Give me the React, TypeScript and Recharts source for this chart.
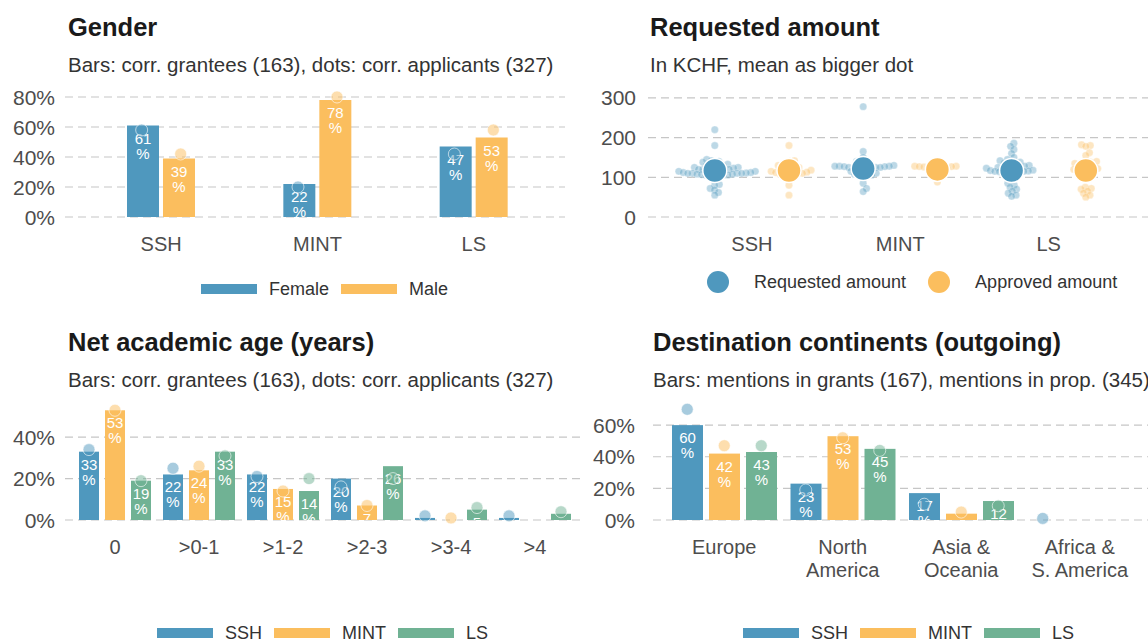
import React from 'react';
import { ComposedChart, ScatterChart, Bar, Scatter, XAxis, YAxis, CartesianGrid } from 'recharts';

const BLUE = '#4f98be';
const ORANGE = '#fbbe5e';
const GREEN = '#70b294';
const TICK = '#4d4d4d';
const TEXT = '#333333';
const GRID = '#c6c6c6';
const FONT = '"Liberation Sans", Arial, Helvetica, sans-serif';

// Gender (% of grantees as bars, % of applicants as dots)
const genderCats = ['SSH', 'MINT', 'LS'];
const genderFemale = [61, 22, 47];
const genderMale = [39, 78, 53];
const genderFemaleApplicants = [58, 20, 42];
const genderMaleApplicants = [42, 80, 58];

// Requested / approved amounts in KCHF, one dot per project
const amountCats = ['SSH', 'MINT', 'LS'];
const requestedSSH = [220, 180, 145, 142, 140, 138, 135, 133, 130, 130, 128, 127, 125, 125, 123, 122, 120, 120, 120, 118, 117, 115, 115, 114, 113, 112, 112, 111, 110, 110, 110, 110, 109, 108, 108, 107, 106, 105, 105, 102, 100, 98, 82, 80, 72, 68, 62, 55];
const approvedSSH = [180, 142, 140, 135, 130, 128, 125, 122, 120, 120, 118, 116, 115, 113, 112, 110, 110, 108, 108, 106, 105, 80, 55];
const requestedMINT = [278, 165, 150, 140, 135, 132, 130, 128, 128, 128, 127, 127, 126, 125, 125, 125, 124, 122, 120, 118, 115, 112, 110, 108, 106, 105, 105, 100, 85, 72, 64];
const approvedMINT = [140, 130, 128, 128, 127, 127, 126, 125, 125, 123, 120, 118, 112, 105, 88];
const requestedLS = [186, 178, 170, 160, 150, 145, 142, 140, 138, 136, 135, 132, 130, 128, 127, 125, 125, 123, 122, 120, 120, 118, 117, 116, 115, 115, 114, 113, 112, 110, 108, 105, 100, 85, 80, 75, 70, 65, 60, 55, 52];
const approvedLS = [182, 180, 178, 162, 155, 140, 138, 137, 135, 133, 130, 128, 126, 125, 122, 120, 118, 117, 115, 113, 110, 105, 75, 72, 70, 65, 60, 55, 50];
const requestedMeans = [117, 122, 117];
const approvedMeans = [117, 120, 117];

// Net academic age (years)
const ageCats = ['0', '>0-1', '>1-2', '>2-3', '>3-4', '>4'];
const ageSSH = [33, 22, 22, 20, 1, 1];
const ageMINT = [53, 24, 15, 7, 0, 0];
const ageLS = [19, 33, 14, 26, 5, 3];
const ageSSHApplicants = [34, 25, 21, 16, 2, 2];
const ageMINTApplicants = [53, 26, 14, 7, 1, null];
const ageLSApplicants = [19, 31, 20, 20, 6, 4];

// Destination continents
const destCats = ['Europe', 'North\nAmerica', 'Asia &\nOceania', 'Africa &\nS. America'];
const destSSH = [60, 23, 17, 0];
const destMINT = [42, 53, 4, 0];
const destLS = [43, 45, 12, 0];
const destSSHProposals = [70, 19, 10, 1];
const destMINTProposals = [47, 52, 5, null];
const destLSProposals = [47, 44, 9, null];

const genderData = genderCats.map((cat, i) => ({
  cat,
  female: genderFemale[i],
  male: genderMale[i],
  femaleApp: genderFemaleApplicants[i],
  maleApp: genderMaleApplicants[i],
}));

const ageData = ageCats.map((cat, i) => ({
  cat,
  ssh: ageSSH[i],
  mint: ageMINT[i],
  ls: ageLS[i],
  sshApp: ageSSHApplicants[i],
  mintApp: ageMINTApplicants[i],
  lsApp: ageLSApplicants[i],
}));

const destData = destCats.map((cat, i) => ({
  cat,
  ssh: destSSH[i],
  mint: destMINT[i],
  ls: destLS[i],
  sshApp: destSSHProposals[i],
  mintApp: destMINTProposals[i],
  lsApp: destLSProposals[i],
}));

// amount panel geometry, needed to lay the swarm out in pixels
const AMT_X_DOMAIN: [number, number] = [-0.7, 2.75];
const AMT_Y_MAX = 320;
const AMT_PLOT_W = 512;
const AMT_PLOT_H = 127;

// simple beeswarm: push each point sideways until it clears the ones already placed
function swarm(values: number[], minDist: number): number[] {
  const pxX = AMT_PLOT_W / (AMT_X_DOMAIN[1] - AMT_X_DOMAIN[0]);
  const pxY = AMT_PLOT_H / AMT_Y_MAX;
  const order = values.map((_, i) => i).sort((a, b) => values[a] - values[b]);
  const placed: { x: number; y: number }[] = [];
  const offsets = new Array(values.length).fill(0);
  for (const i of order) {
    const y = values[i] * pxY;
    const candidates = [0];
    for (const p of placed) {
      const dy = Math.abs(p.y - y);
      if (dy < minDist) {
        const dx = Math.sqrt(minDist * minDist - dy * dy);
        candidates.push(p.x + dx, p.x - dx);
      }
    }
    candidates.sort((a, b) => Math.abs(a) - Math.abs(b));
    let best = 0;
    for (const c of candidates) {
      if (placed.every((p) => (p.x - c) ** 2 + (p.y - y) ** 2 >= minDist * minDist - 1e-6)) {
        best = c;
        break;
      }
    }
    placed.push({ x: best, y });
    offsets[i] = best / pxX;
  }
  return offsets;
}

function swarmPoints(groups: number[][], side: number) {
  const out: { x: number; y: number }[] = [];
  groups.forEach((vals, gi) => {
    const offs = swarm(vals, 4.6);
    vals.forEach((v, k) => out.push({ x: gi + side * 0.25 + offs[k], y: v }));
  });
  return out;
}

const requestedPoints = swarmPoints([requestedSSH, requestedMINT, requestedLS], -1);
const approvedPoints = swarmPoints([approvedSSH, approvedMINT, approvedLS], 1);
const requestedMeanPoints = requestedMeans.map((y, i) => ({ x: i - 0.25, y }));
const approvedMeanPoints = approvedMeans.map((y, i) => ({ x: i + 0.25, y }));

function labelledBar(color: string, key: string, id: string) {
  return (props: any) => {
    const { x, y, width, height, index, payload } = props;
    const v = payload?.[key];
    if (v == null || x == null || !width) return <g />;
    const cx = x + width / 2;
    const h = Math.max(height || 0, 0);
    const clip = `${id}-${index}`;
    return (
      <g>
        <rect x={x} y={y} width={width} height={h} fill={color} />
        <clipPath id={clip}>
          <rect x={x - 5} y={y - 30} width={width + 10} height={h + 30} />
        </clipPath>
        <g clipPath={`url(#${clip})`} fill="#fff" fontSize={15} textAnchor="middle">
          {h > 6 && <text x={cx} y={y + 18}>{v}</text>}
          {h > 22 && <text x={cx} y={y + 33}>%</text>}
        </g>
      </g>
    );
  };
}

function offsetDot(color: string, key: string, dx: number) {
  return (props: any) => {
    const { cx, cy, payload } = props;
    if (payload?.[key] == null || cx == null || cy == null || Number.isNaN(cy)) return <g />;
    return (
      <circle cx={cx + dx} cy={cy} r={6} fill={color} fillOpacity={0.5} stroke="#fff" strokeOpacity={0.6} strokeWidth={1} />
    );
  };
}

const XTick = (props: any) => {
  const { x, y, payload, names } = props;
  const label = names ? names[payload.value] : payload.value;
  const lines = String(label ?? '').split('\n');
  return (
    <text x={x} y={y} textAnchor="middle" fill={TICK} fontSize={20}>
      {lines.map((l, i) => (
        <tspan key={i} x={x} dy={i === 0 ? '0.36em' : 23}>
          {l}
        </tspan>
      ))}
    </text>
  );
};

const YTick = (props: any) => {
  const { x, y, payload, suffix } = props;
  return (
    <text x={x} y={y} dy="0.36em" textAnchor="end" fill={TICK} fontSize={21}>
      {payload.value}
      {suffix}
    </text>
  );
};

function Heading({ left, top, title, subtitle }: { left: number; top: number; title: string; subtitle: string }) {
  return (
    <>
      <div style={{ position: 'absolute', left, top, fontSize: 25.5, lineHeight: '25px', fontWeight: 700, color: '#1a1a1a', whiteSpace: 'nowrap' }}>
        {title}
      </div>
      <div style={{ position: 'absolute', left, top: top + 40, fontSize: 20.5, lineHeight: '20px', color: TEXT, whiteSpace: 'nowrap' }}>
        {subtitle}
      </div>
    </>
  );
}

function KeyRow({ left, cy, items, round }: { left: number; cy: number; items: [string, string][]; round?: boolean }) {
  return (
    <div style={{ position: 'absolute', left, top: cy - 12, height: 24, display: 'flex', alignItems: 'center', whiteSpace: 'nowrap' }}>
      {items.map(([name, color]) => (
        <div key={name} style={{ display: 'flex', alignItems: 'center', marginRight: round ? 22 : 12 }}>
          {round ? (
            <div style={{ width: 22, height: 22, borderRadius: 11, background: color, marginRight: 25 }} />
          ) : (
            <div style={{ width: 56, height: 10, background: color, marginRight: 12 }} />
          )}
          <span style={{ fontSize: 18, color: TEXT }}>{name}</span>
        </div>
      ))}
    </div>
  );
}

function GenderChart() {
  const ticks = [0, 20, 40, 60, 80];
  return (
    <ComposedChart width={580} height={300} data={genderData} margin={{ top: 91, right: 15, bottom: 43, left: 0 }}>
      <CartesianGrid vertical={false} horizontalValues={ticks} stroke={GRID} strokeDasharray="8 5" strokeWidth={1.2} />
      <XAxis dataKey="cat" height={40} axisLine={false} tickLine={false} tickSize={0} tickMargin={27} padding={{ left: 18, right: 13 }} tick={(p: any) => <XTick {...p} />} />
      <YAxis width={65} domain={[0, 84]} ticks={ticks} axisLine={false} tickLine={false} tickSize={0} tickMargin={10} tick={(p: any) => <YTick {...p} suffix="%" />} />
      <Bar dataKey="female" barSize={32} fill={BLUE} shape={labelledBar(BLUE, 'female', 'gf')} isAnimationActive={false} />
      <Bar dataKey="male" barSize={32} fill={ORANGE} shape={labelledBar(ORANGE, 'male', 'gm')} isAnimationActive={false} />
      <Scatter dataKey="femaleApp" fill={BLUE} shape={offsetDot(BLUE, 'femaleApp', -19.5)} isAnimationActive={false} />
      <Scatter dataKey="maleApp" fill={ORANGE} shape={offsetDot(ORANGE, 'maleApp', 19.5)} isAnimationActive={false} />
    </ComposedChart>
  );
}

function AmountChart() {
  const ticks = [0, 100, 200, 300];
  const small = (color: string) => (p: any) =>
    p.cx == null ? <g /> : <circle cx={p.cx} cy={p.cy} r={3.7} fill={color} fillOpacity={0.38} stroke="#fff" strokeOpacity={0.5} strokeWidth={0.6} />;
  const big = (color: string) => (p: any) =>
    p.cx == null ? <g /> : <circle cx={p.cx} cy={p.cy} r={12} fill={color} stroke="#fff" strokeWidth={1.5} />;
  return (
    <ScatterChart width={580} height={300} margin={{ top: 90, right: 0, bottom: 43, left: 0 }}>
      <CartesianGrid vertical={false} horizontalValues={ticks} stroke={GRID} strokeDasharray="8 5" strokeWidth={1.2} />
      <XAxis type="number" dataKey="x" domain={AMT_X_DOMAIN} allowDataOverflow ticks={[0, 1, 2]} height={40} axisLine={false} tickLine={false} tickSize={0} tickMargin={27} tick={(p: any) => <XTick {...p} names={amountCats} />} />
      <YAxis type="number" dataKey="y" width={68} domain={[0, AMT_Y_MAX]} ticks={ticks} axisLine={false} tickLine={false} tickSize={0} tickMargin={12} tick={(p: any) => <YTick {...p} suffix="" />} />
      <Scatter data={requestedPoints} fill={BLUE} shape={small(BLUE)} isAnimationActive={false} />
      <Scatter data={approvedPoints} fill={ORANGE} shape={small(ORANGE)} isAnimationActive={false} />
      <Scatter data={requestedMeanPoints} fill={BLUE} shape={big(BLUE)} isAnimationActive={false} />
      <Scatter data={approvedMeanPoints} fill={ORANGE} shape={big(ORANGE)} isAnimationActive={false} />
    </ScatterChart>
  );
}

function ThreeSeriesChart({ data, id, yMax, ticks, top, yWidth, padding, barSize, barGap, dotDx }: any) {
  return (
    <ComposedChart width={580} height={342} data={data} barGap={barGap} margin={{ top, right: 0, bottom: 82, left: 0 }}>
      <CartesianGrid vertical={false} horizontalValues={ticks} stroke={GRID} strokeDasharray="8 5" strokeWidth={1.2} />
      <XAxis dataKey="cat" height={40} axisLine={false} tickLine={false} tickSize={0} tickMargin={27} padding={padding} interval={0} tick={(p: any) => <XTick {...p} />} />
      <YAxis width={yWidth} domain={[0, yMax]} ticks={ticks} axisLine={false} tickLine={false} tickSize={0} tickMargin={yWidth - 55} tick={(p: any) => <YTick {...p} suffix="%" />} />
      <Bar dataKey="ssh" barSize={barSize} fill={BLUE} shape={labelledBar(BLUE, 'ssh', `${id}s`)} isAnimationActive={false} />
      <Bar dataKey="mint" barSize={barSize} fill={ORANGE} shape={labelledBar(ORANGE, 'mint', `${id}m`)} isAnimationActive={false} />
      <Bar dataKey="ls" barSize={barSize} fill={GREEN} shape={labelledBar(GREEN, 'ls', `${id}l`)} isAnimationActive={false} />
      <Scatter dataKey="sshApp" fill={BLUE} shape={offsetDot(BLUE, 'sshApp', -dotDx)} isAnimationActive={false} />
      <Scatter dataKey="mintApp" fill={ORANGE} shape={offsetDot(ORANGE, 'mintApp', 0)} isAnimationActive={false} />
      <Scatter dataKey="lsApp" fill={GREEN} shape={offsetDot(GREEN, 'lsApp', dotDx)} isAnimationActive={false} />
    </ComposedChart>
  );
}

export default function App() {
  return (
    <div style={{ position: 'absolute', left: 0, top: 0, width: 1148, height: 642, overflow: 'hidden', background: '#fff', fontFamily: FONT }}>
      <Heading left={68} top={15} title="Gender" subtitle="Bars: corr. grantees (163), dots: corr. applicants (327)" />
      <Heading left={650} top={15} title="Requested amount" subtitle="In KCHF, mean as bigger dot" />
      <Heading left={68} top={330} title="Net academic age (years)" subtitle="Bars: corr. grantees (163), dots: corr. applicants (327)" />
      <Heading left={653} top={330} title="Destination continents (outgoing)" subtitle="Bars: mentions in grants (167), mentions in prop. (345)" />

      <div style={{ position: 'absolute', left: 0, top: 0 }}>
        <GenderChart />
      </div>
      <div style={{ position: 'absolute', left: 580, top: 0 }}>
        <AmountChart />
      </div>
      <div style={{ position: 'absolute', left: 0, top: 300 }}>
        <ThreeSeriesChart data={ageData} id="age" yMax={57} ticks={[0, 20, 40]} top={102} yWidth={65} padding={{ left: 8, right: 3 }} barSize={20} barGap={6} dotDx={26} />
      </div>
      <div style={{ position: 'absolute', left: 580, top: 300 }}>
        <ThreeSeriesChart data={destData} id="dst" yMax={74} ticks={[0, 20, 40, 60]} top={103} yWidth={73} padding={{ left: 12, right: 21 }} barSize={31} barGap={6} dotDx={37} />
      </div>

      <KeyRow left={201} cy={289} items={[['Female', BLUE], ['Male', ORANGE]]} />
      <KeyRow left={707} cy={282} round items={[['Requested amount', BLUE], ['Approved amount', ORANGE]]} />
      <KeyRow left={157} cy={633} items={[['SSH', BLUE], ['MINT', ORANGE], ['LS', GREEN]]} />
      <KeyRow left={743} cy={633} items={[['SSH', BLUE], ['MINT', ORANGE], ['LS', GREEN]]} />
    </div>
  );
}
